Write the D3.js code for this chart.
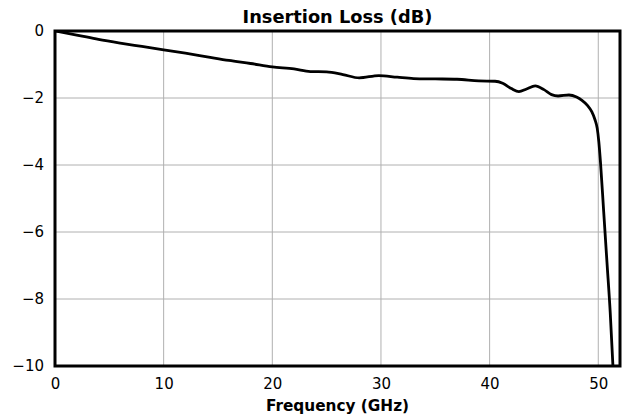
<!DOCTYPE html>
<html>
<head>
<meta charset="utf-8">
<script src="https://cdn.jsdelivr.net/npm/d3@7"></script>
<style>
  html, body { margin: 0; padding: 0; background: #fff; }
  svg { display: block; }
  text { font-family: "DejaVu Sans", sans-serif; }
</style>
</head>
<body>
<svg id="chart" width="626" height="419"></svg>
<script>
const freqGHz = [0, 2, 4, 6, 8, 10, 12, 14, 16, 18, 20, 22, 23.5, 25, 26.5, 28, 29.8, 31.5, 33, 35, 37, 39, 40.5, 41.2, 42, 42.7, 43.4, 44.2, 45, 45.7, 46.3, 47.3, 48, 48.5, 49, 49.4, 49.7, 49.9, 50.05, 50.2, 50.5, 50.8, 51.1, 51.35];
const lossDb = [0, -0.12, -0.25, -0.36, -0.46, -0.56, -0.66, -0.77, -0.88, -0.97, -1.07, -1.13, -1.21, -1.22, -1.30, -1.40, -1.33, -1.38, -1.42, -1.43, -1.44, -1.49, -1.50, -1.56, -1.72, -1.81, -1.73, -1.64, -1.75, -1.90, -1.94, -1.91, -1.97, -2.07, -2.22, -2.41, -2.65, -2.90, -3.3, -3.9, -5.4, -6.9, -8.4, -10];
const xTicks = [0, 10, 20, 30, 40, 50];
const yTicks = [0, -2, -4, -6, -8, -10];
const titleText = "Insertion Loss (dB)";
const xLabelText = "Frequency (GHz)";

const svg = d3.select("#chart");
const m = { left: 55, right: 6, top: 31, bottom: 53 };
const W = 626, H = 419;
const x = d3.scaleLinear().domain([0, 52]).range([m.left, W - m.right]);
const y = d3.scaleLinear().domain([-10, 0]).range([H - m.bottom, m.top]);

svg.append("defs").append("clipPath").attr("id", "clip")
  .append("rect").attr("x", x(0)).attr("y", y(0))
  .attr("width", x(52) - x(0)).attr("height", y(-10) - y(0));

// grid
svg.append("g").selectAll("line").data(xTicks).join("line")
  .attr("x1", d => x(d)).attr("x2", d => x(d))
  .attr("y1", y(0)).attr("y2", y(-10))
  .attr("stroke", "#b0b0b0").attr("stroke-width", 1);
svg.append("g").selectAll("line").data(yTicks).join("line")
  .attr("x1", x(0)).attr("x2", x(52))
  .attr("y1", d => y(d)).attr("y2", d => y(d))
  .attr("stroke", "#b0b0b0").attr("stroke-width", 1);

// axes (labels only)
const fmt = d => d3.format("d")(d).replace("-", "\u2212");
const xAxis = svg.append("g").attr("transform", `translate(0,${y(-10)})`)
  .call(d3.axisBottom(x).tickValues(xTicks).tickFormat(fmt).tickSize(0).tickPadding(12));
const yAxis = svg.append("g").attr("transform", `translate(${x(0)},0)`)
  .call(d3.axisLeft(y).tickValues(yTicks).tickFormat(fmt).tickSize(0).tickPadding(11));
[xAxis, yAxis].forEach(a => {
  a.select(".domain").remove();
  a.selectAll("text").attr("font-size", 15).attr("fill", "#000")
    .style("font-family", "'DejaVu Sans', sans-serif");
});

// line
const line = d3.line().x((d, i) => x(freqGHz[i])).y(d => y(d)).curve(d3.curveMonotoneX);
svg.append("path").datum(lossDb)
  .attr("clip-path", "url(#clip)")
  .attr("d", line).attr("fill", "none")
  .attr("stroke", "#000").attr("stroke-width", 2.8);

// frame
svg.append("rect").attr("x", x(0)).attr("y", y(0))
  .attr("width", x(52) - x(0)).attr("height", y(-10) - y(0))
  .attr("fill", "none").attr("stroke", "#000").attr("stroke-width", 3);

// title & label
svg.append("text").attr("x", (x(0) + x(52)) / 2).attr("y", 22.5)
  .attr("text-anchor", "middle").attr("font-weight", "bold").attr("font-size", 17.8)
  .text(titleText);
svg.append("text").attr("x", (x(0) + x(52)) / 2).attr("y", 411)
  .attr("text-anchor", "middle").attr("font-weight", "bold").attr("font-size", 15.3)
  .text(xLabelText);
</script>
</body>
</html>
